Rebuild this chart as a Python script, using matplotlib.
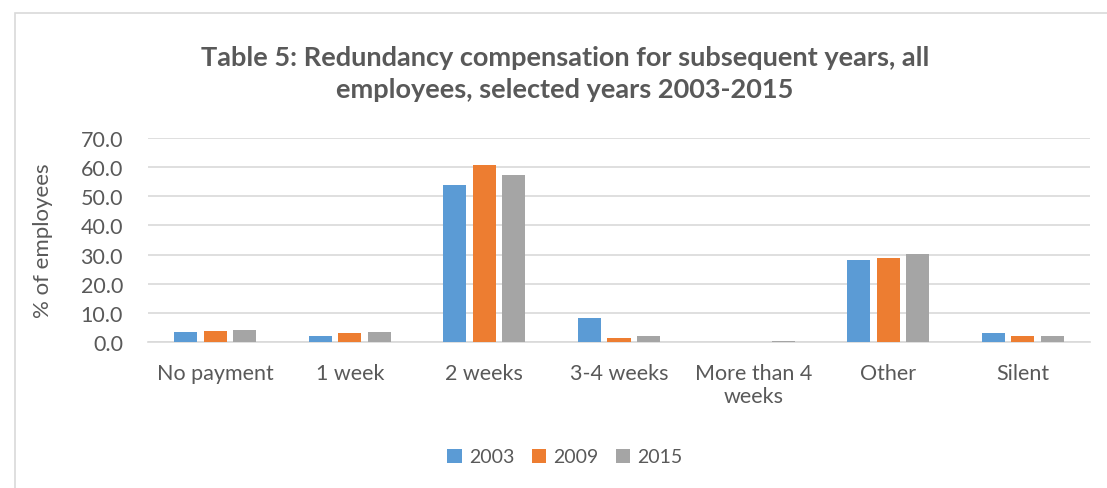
import numpy as np
import matplotlib.pyplot as plt
from matplotlib.patches import Rectangle

categories = ['No payment', '1 week', '2 weeks', '3-4 weeks', 'More than 4\nweeks', 'Other', 'Silent']
years = ['2003', '2009', '2015']
v2003 = [3.4, 2.2, 54.0, 8.2, 0.0, 28.1, 3.1]
v2009 = [3.7, 3.1, 60.6, 1.3, 0.0, 28.8, 2.0]
v2015 = [4.0, 3.3, 57.2, 2.1, 0.3, 30.1, 2.0]
yticks = [0, 10, 20, 30, 40, 50, 60, 70]

colors = ['#5b9bd5', '#ed7d31', '#a5a5a5']
plt.rcParams['font.family'] = ['Lato', 'DejaVu Sans']

fig = plt.figure(figsize=(11.07, 4.89), dpi=100)
fig.patches.append(Rectangle((15/1107, -0.1), 1.2, 1.1 - 14/489, transform=fig.transFigure,
                             fill=False, edgecolor='#d9d9d9', linewidth=1.2))

ax = fig.add_axes([148/1107, 1 - 343/489, 942/1107, 204/489])
x = np.arange(len(categories))
step = 0.219
w = 0.171
for i, (vals, yr) in enumerate(zip([v2003, v2009, v2015], years)):
    ax.bar(x + (i - 1) * step, vals, width=w, color=colors[i], label=yr, zorder=3)

ax.set_xlim(-0.5, len(categories) - 0.5)
ax.set_ylim(0, 70)
ax.set_yticks(yticks)
ax.set_yticklabels(['%.1f' % t for t in yticks], fontsize=15.5, color='#595959')
ax.set_xticks(x)
ax.set_xticklabels(categories, fontsize=15.5, color='#595959', linespacing=1.2)
ax.tick_params(axis='y', length=0, pad=18)
ax.tick_params(axis='x', length=0, pad=15)
ax.grid(axis='y', color='#d9d9d9', linewidth=1.2, zorder=0)
for s in ['top', 'right', 'left']:
    ax.spines[s].set_visible(False)
ax.spines['bottom'].set_color('#d9d9d9')
ax.spines['bottom'].set_linewidth(1.2)
ax.set_ylabel('% of employees', fontsize=16, color='#595959', labelpad=20)

fig.text(565/1107, 1 - 74/489, 'Table 5: Redundancy compensation for subsequent years, all\nemployees, selected years 2003-2015',
         ha='center', va='center', fontsize=19.5, fontweight='bold', color='#595959', linespacing=1.4)

fig.legend(loc='center', bbox_to_anchor=(565/1107, 1 - 458/489), ncol=3, frameon=False,
           fontsize=14, handlelength=0.75, handleheight=0.75, columnspacing=0.9, handletextpad=0.35,
           labelcolor='#595959')

fig.savefig('out.png', dpi=100, facecolor='w')
